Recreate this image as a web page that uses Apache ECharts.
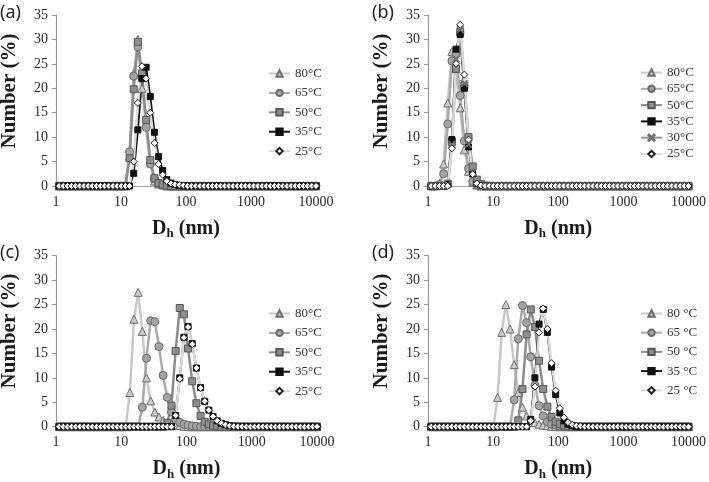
<!DOCTYPE html>
<html>
<head>
<meta charset="utf-8">
<script src="https://cdn.jsdelivr.net/npm/echarts@6/dist/echarts.min.js"></script>
<style>html,body{margin:0;padding:0;background:#fff}#c{width:709px;height:482px}</style>
</head>
<body>
<div id="c"></div>
<script>
// Hydrodynamic diameter bins (nm)
const bins = [1.117,1.294,1.499,1.736,2.01,2.328,2.696,3.122,3.615,4.187,4.849,5.615,6.503,7.531,8.721,10.1,11.7,13.54,15.69,18.17,21.04,24.36,28.21,32.67,37.84,43.82,50.75,58.77,68.06,78.82,91.28,105.7,122.4,141.8,164.2,190.1,220.2,255,295.3,342,396.1,458.7,531.2,615.1,712.4,825,955.4,1106,1281,1484,1718,1990,2305,2669,3091,3580,4145,4801,5560,6439,7456,8635,10000];

const xTickLabels = ['1','10','100','1000','10000'];
const yTicks = [0,5,10,15,20,25,30,35];
const panelLabels = ['(a)','(b)','(c)','(d)'];
const namesA = ['80°C','65°C','50°C','35°C','25°C'];
const namesB = ['80°C','65°C','50°C','35°C','30°C','25°C'];
const namesC = ['80°C','65°C','50°C','35°C','25°C'];
const namesD = ['80 °C','65 °C','50 °C','35 °C','25 °C'];

// Panel (a)
const a80 = [0,0,0,0,0,0,0,0,0,0, 0,0,0,0,0,0,0,6,23,30, 20,13,5,1,0.4,0.2,0,0,0,0, 0,0,0,0,0,0,0,0,0,0, 0,0,0,0,0,0,0,0,0,0, 0,0,0,0,0,0,0,0,0,0, 0,0,0];
const a65 = [0,0,0,0,0,0,0,0,0,0, 0,0,0,0,0,0,0,7,22.5,28.5, 22,12,4.5,1.5,0.5,0.2,0.1,0,0,0, 0,0,0,0,0,0,0,0,0,0, 0,0,0,0,0,0,0,0,0,0, 0,0,0,0,0,0,0,0,0,0, 0,0,0];
const a50 = [0,0,0,0,0,0,0,0,0,0, 0,0,0,0,0,0,0,5.7,19.8,29.5, 23,13.5,5.3,1.6,0.6,0.3,0.1,0,0,0, 0,0,0,0,0,0,0,0,0,0, 0,0,0,0,0,0,0,0,0,0, 0,0,0,0,0,0,0,0,0,0, 0,0,0];
const a35 = [0,0,0,0,0,0,0,0,0,0, 0,0,0,0,0,0,0,0,2.6,11.5, 22,24.3,18.3,11,6,3.2,1.3,0.6,0.3,0.1, 0,0,0,0,0,0,0,0,0,0, 0,0,0,0,0,0,0,0,0,0, 0,0,0,0,0,0,0,0,0,0, 0,0,0];
const a25 = [0,0,0,0,0,0,0,0,0,0, 0,0,0,0,0,0,0,0,5,17, 24.5,22,15,8.8,4.5,2.3,1,0.5,0.3,0.2, 0.1,0,0,0,0,0,0,0,0,0, 0,0,0,0,0,0,0,0,0,0, 0,0,0,0,0,0,0,0,0,0, 0,0,0];

// Panel (b)
const b80 = [0,0,0.5,4.5,17,27.5,24,16,7.4,3, 0.8,0.2,0,0,0,0,0,0,0,0, 0,0,0,0,0,0,0,0,0,0, 0,0,0,0,0,0,0,0,0,0, 0,0,0,0,0,0,0,0,0,0, 0,0,0,0,0,0,0,0,0,0, 0,0,0];
const b65 = [0,0,0.3,2.5,12.7,25.6,27,18.5,9.2,3.6, 0.9,0.2,0,0,0,0,0,0,0,0, 0,0,0,0,0,0,0,0,0,0, 0,0,0,0,0,0,0,0,0,0, 0,0,0,0,0,0,0,0,0,0, 0,0,0,0,0,0,0,0,0,0, 0,0,0];
const b50 = [0,0,0,0,0.5,9,24,31.5,20.5,10, 4,1.3,0.4,0.1,0,0,0,0,0,0, 0,0,0,0,0,0,0,0,0,0, 0,0,0,0,0,0,0,0,0,0, 0,0,0,0,0,0,0,0,0,0, 0,0,0,0,0,0,0,0,0,0, 0,0,0];
const b35 = [0,0,0,0,0.3,9.5,28,31,20,8, 2.5,0.5,0.1,0,0,0,0,0,0,0, 0,0,0,0,0,0,0,0,0,0, 0,0,0,0,0,0,0,0,0,0, 0,0,0,0,0,0,0,0,0,0, 0,0,0,0,0,0,0,0,0,0, 0,0,0];
const b30 = [0,0,0,0,0.3,8.5,26,32,21,8.5, 2.8,0.6,0.1,0,0,0,0,0,0,0, 0,0,0,0,0,0,0,0,0,0, 0,0,0,0,0,0,0,0,0,0, 0,0,0,0,0,0,0,0,0,0, 0,0,0,0,0,0,0,0,0,0, 0,0,0];
const b25 = [0,0,0,0,0,7.7,25,33,22.8,9.5, 2.4,0.5,0.1,0,0,0,0,0,0,0, 0,0,0,0,0,0,0,0,0,0, 0,0,0,0,0,0,0,0,0,0, 0,0,0,0,0,0,0,0,0,0, 0,0,0,0,0,0,0,0,0,0, 0,0,0];

// Panel (c)
const c80 = [0,0,0,0,0,0,0,0,0,0, 0,0,0,0,0,0,0,7,22,27.5, 19.5,10,5.3,3,2,1.3,0.8,0.5,0.3,0.2, 0.1,0,0,0,0,0,0,0,0,0, 0,0,0,0,0,0,0,0,0,0, 0,0,0,0,0,0,0,0,0,0, 0,0,0];
const c65 = [0,0,0,0,0,0,0,0,0,0, 0,0,0,0,0,0,0,0,0,0, 4,14,21.7,21.5,16.4,10.5,6,3,1.5,0.9, 0.5,0.3,0.2,0.1,0,0,0,0,0,0, 0,0,0,0,0,0,0,0,0,0, 0,0,0,0,0,0,0,0,0,0, 0,0,0];
const c50 = [0,0,0,0,0,0,0,0,0,0, 0,0,0,0,0,0,0,0,0,0, 0,0,0,0,0,0,0.8,4.3,15.5,24.3, 23,16,9.3,4.8,2.2,1,0.5,0.2,0.1,0, 0,0,0,0,0,0,0,0,0,0, 0,0,0,0,0,0,0,0,0,0, 0,0,0];
const c35 = [0,0,0,0,0,0,0,0,0,0, 0,0,0,0,0,0,0,0,0,0, 0,0,0,0,0,0,0,0,2.3,10, 18.3,20.5,17,12,8,5.2,3.4,2.1,1.2,0.7, 0.4,0.2,0.1,0,0,0,0,0,0,0, 0,0,0,0,0,0,0,0,0,0, 0,0,0];
const c25 = [0,0,0,0,0,0,0,0,0,0, 0,0,0,0,0,0,0,0,0,0, 0,0,0,0,0,0,0,0,2.3,9.8, 18.2,20.4,16.9,12,7.9,5.2,3.4,2.1,1.2,0.7, 0.4,0.2,0.1,0,0,0,0,0,0,0, 0,0,0,0,0,0,0,0,0,0, 0,0,0];

// Panel (d)
const d80 = [0,0,0,0,0,0,0,0,0,0, 0,0,0,0,0,0,6,19.3,25,20, 12.7,7,4,2.2,1.3,0.8,0.5,0.3,0.2,0.1, 0,0,0,0,0,0,0,0,0,0, 0,0,0,0,0,0,0,0,0,0, 0,0,0,0,0,0,0,0,0,0, 0,0,0];
const d65 = [0,0,0,0,0,0,0,0,0,0, 0,0,0,0,0,0,0,0,0,0, 5.5,18,24.8,21.3,14.3,8.5,4.3,2.2,1,0.5, 0.3,0.1,0,0,0,0,0,0,0,0, 0,0,0,0,0,0,0,0,0,0, 0,0,0,0,0,0,0,0,0,0, 0,0,0];
const d50 = [0,0,0,0,0,0,0,0,0,0, 0,0,0,0,0,0,0,0,0,0, 0,1.3,7.7,18.9,24,20.4,13.5,7.7,4.1,2, 1,0.5,0.2,0.1,0,0,0,0,0,0, 0,0,0,0,0,0,0,0,0,0, 0,0,0,0,0,0,0,0,0,0, 0,0,0];
const d35 = [0,0,0,0,0,0,0,0,0,0, 0,0,0,0,0,0,0,0,0,0, 0,0,0,0,1.5,10,21,24,19.3,12.2, 6.6,2.8,1.2,0.5,0.2,0,0,0,0,0, 0,0,0,0,0,0,0,0,0,0, 0,0,0,0,0,0,0,0,0,0, 0,0,0];
const d25 = [0,0,0,0,0,0,0,0,0,0, 0,0,0,0,0,0,0,0,0,0, 0,0,0,0,1.2,8.2,19.3,24.2,20,13, 7.4,3.8,1.9,0.9,0.4,0.2,0.1,0,0,0, 0,0,0,0,0,0,0,0,0,0, 0,0,0,0,0,0,0,0,0,0, 0,0,0];

// ---------- styling ----------
const SERIF = '"Liberation Serif","Times New Roman",serif';
const xPath = 'path://M1,0 L5,4 L9,0 L10,1 L6,5 L10,9 L9,10 L5,6 L1,10 L0,9 L4,5 L0,1 Z';
const sty = {
  '80': {symbol:'triangle', size:8, fill:'#cacaca', border:'#6e6e6e', line:'#c8c8c8', w:2.5},
  '65': {symbol:'circle',   size:8, fill:'#a4a4a4', border:'#686868', line:'#aaaaaa', w:2.5},
  '50': {symbol:'rect',     size:7, fill:'#8e8e8e', border:'#575757', line:'#8c8c8c', w:2.5},
  '35': {symbol:'rect',     size:6, fill:'#111111', border:'#111111', line:'#151515', w:2},
  '30': {symbol:xPath,      size:7, fill:'#707070', border:'#707070', line:'#939393', w:2.5},
  '25': {symbol:'diamond',  size:7, fill:'#ffffff', border:'#202020', line:'#dadada', w:2.5}
};

const grids = [
  {left:56,  top:15,    width:260, height:171},
  {left:428, top:15,    width:262, height:171},
  {left:56,  top:255.7, width:261, height:171},
  {left:428, top:255.7, width:262, height:171}
];

const panels = [
  {names:namesA, vals:[a80,a65,a50,a35,a25], keys:['80','65','50','35','25'], legend:{left:263, top:62, gap:6.4, h:8}},
  {names:namesB, vals:[b80,b65,b50,b35,b30,b25], keys:['80','65','50','35','30','25'], legend:{left:635, top:61, gap:3.3, h:8}},
  {names:namesC, vals:[c80,c65,c50,c35,c25], keys:['80','65','50','35','25'], legend:{left:263, top:302, gap:6.4, h:8}},
  {names:namesD, vals:[d80,d65,d50,d35,d25], keys:['80','65','50','35','25'], legend:{left:635, top:302, gap:6.2, h:8}}
];

const xAxes = [], yAxes = [], series = [], legends = [];
grids.forEach((g, k) => {
  xAxes.push({
    type:'log', logBase:10, min:1, max:10000, gridIndex:k,
    name:'{b|D}{s|h}{b| (nm)}', nameLocation:'middle', nameGap:31,
    nameTextStyle:{rich:{
      b:{fontFamily:SERIF, fontSize:20, fontWeight:'bold', color:'#1a1a1a'},
      s:{fontFamily:SERIF, fontSize:13, fontWeight:'bold', color:'#1a1a1a', padding:[10,0,0,0]}
    }},
    axisLine:{show:true, lineStyle:{color:'#a0a0a0', width:1}},
    axisTick:{show:false},
    splitLine:{show:false},
    axisLabel:{fontFamily:SERIF, fontSize:14, color:'#2a2a2a', margin:9,
      formatter:v => xTickLabels[Math.round(Math.log10(v))]}
  });
  yAxes.push({
    type:'value', min:yTicks[0], max:yTicks[yTicks.length-1], interval:5, gridIndex:k,
    axisLine:{show:true, lineStyle:{color:'#9a9a9a', width:1.2}},
    axisTick:{show:true, length:4, lineStyle:{color:'#9a9a9a', width:1.2}},
    splitLine:{show:false},
    axisLabel:{fontFamily:SERIF, fontSize:14, color:'#2a2a2a', margin:8}
  });
  const p = panels[k];
  p.names.forEach((nm, i) => {
    const s = sty[p.keys[i]];
    series.push({
      type:'line', name:nm, xAxisIndex:k, yAxisIndex:k,
      data: bins.map((b, j) => [b, p.vals[i][j]]),
      symbol:s.symbol, symbolSize:s.size, showAllSymbol:true,
      lineStyle:{color:s.line, width:s.w},
      itemStyle:{color:s.fill, borderColor:s.border, borderWidth:1},
      emphasis:{disabled:true}, silent:true, animation:false
    });
  });
  legends.push({
    orient:'vertical', left:p.legend.left, top:p.legend.top, itemGap:p.legend.gap,
    itemWidth:21, itemHeight:p.legend.h, selectedMode:false, data:p.names,
    textStyle:{fontFamily:SERIF, fontSize:13, color:'#333'}
  });
});

const labelPos = [[0,15],[372,15],[0,255],[372,255]];
const yNamePos = [[10,91],[382,91],[10,331],[382,331]];
const graphic = [];
panelLabels.forEach((t, k) => {
  graphic.push({type:'text', left:labelPos[k][0], top:labelPos[k][1]-11,
    style:{text:t, font:'18px "Noto Sans", "Open Sans", sans-serif', fill:'#222'}});
  graphic.push({type:'text', x:yNamePos[k][0], y:yNamePos[k][1], rotation:Math.PI/2,
    style:{text:'Number (%)', font:'bold 21px ' + SERIF, fill:'#1a1a1a', align:'center', verticalAlign:'middle'}});
});

const chart = echarts.init(document.getElementById('c'), null, {renderer:'canvas'});
chart.setOption({
  animation:false,
  grid:grids, xAxis:xAxes, yAxis:yAxes, series:series, legend:legends, graphic:graphic
});
</script>
</body>
</html>
